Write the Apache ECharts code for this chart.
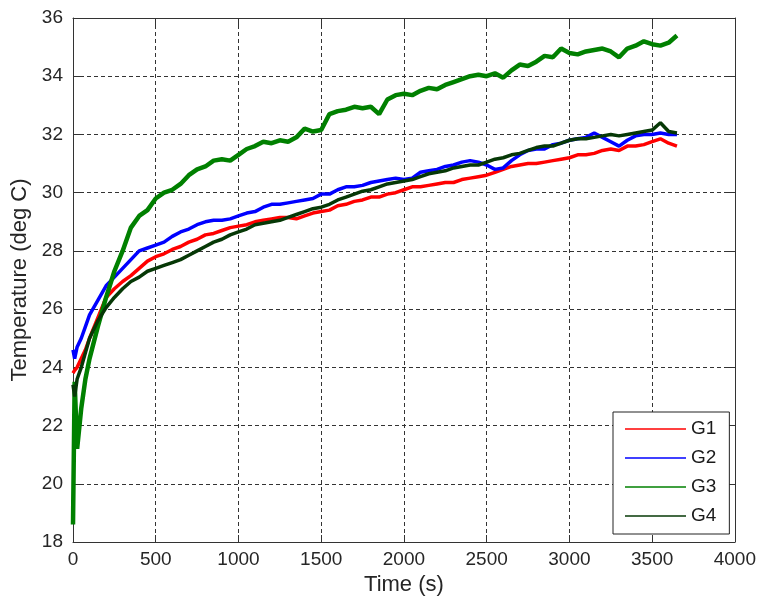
<!DOCTYPE html>
<html>
<head>
<meta charset="utf-8">
<title>Temperature vs time</title>
<script src="https://cdn.jsdelivr.net/npm/echarts@6/dist/echarts.min.js"></script>
<style>
  html, body { margin: 0; padding: 0; background: #fff; }
  #chart { width: 759px; height: 601px; }
</style>
</head>
<body>
<div id="chart"></div>
<script>
// time stamps (s), shared by all four gauges
var times = [0, 10, 25, 50, 75, 100, 150, 200, 250, 300, 350, 400, 450, 500, 550, 600, 650, 700, 750, 800,
  850, 900, 950, 1000, 1050, 1100, 1150, 1200, 1250, 1300, 1350, 1400, 1450, 1500, 1550, 1600, 1650, 1700,
  1750, 1800, 1850, 1900, 1950, 2000, 2050, 2100, 2150, 2200, 2250, 2300, 2350, 2400, 2450, 2500, 2550,
  2600, 2650, 2700, 2750, 2800, 2850, 2900, 2950, 3000, 3050, 3100, 3150, 3200, 3250, 3300, 3350, 3400,
  3450, 3500, 3550, 3600, 3650]

var g1 = [23.8, 23.9, 24.0, 24.3, 24.6, 25.0, 25.7, 26.4, 26.7, 26.95, 27.15, 27.4, 27.65, 27.8, 27.9, 28.05,
  28.15, 28.3, 28.4, 28.55, 28.6, 28.7, 28.8, 28.85, 28.9, 29.0, 29.05, 29.1, 29.15, 29.15, 29.1, 29.2, 29.3,
  29.35, 29.4, 29.55, 29.6, 29.7, 29.75, 29.85, 29.85, 29.95, 30.0, 30.1, 30.2, 30.2, 30.25, 30.3, 30.35,
  30.35, 30.45, 30.5, 30.55, 30.6, 30.7, 30.8, 30.9, 30.95, 31.0, 31.0, 31.05, 31.1, 31.15, 31.2, 31.3, 31.3,
  31.35, 31.45, 31.5, 31.45, 31.6, 31.6, 31.65, 31.75, 31.85, 31.7, 31.6]

var g2 = [24.6, 24.3, 24.7, 25.0, 25.4, 25.8, 26.3, 26.8, 27.1, 27.4, 27.7, 28.0, 28.1, 28.2, 28.3, 28.5,
  28.65, 28.75, 28.9, 29.0, 29.05, 29.05, 29.1, 29.2, 29.3, 29.35, 29.5, 29.6, 29.6, 29.65, 29.7, 29.75, 29.8,
  29.95, 29.95, 30.1, 30.2, 30.2, 30.25, 30.35, 30.4, 30.45, 30.5, 30.45, 30.5, 30.7, 30.75, 30.8, 30.9,
  30.95, 31.05, 31.1, 31.05, 30.95, 30.8, 30.85, 31.1, 31.3, 31.45, 31.5, 31.5, 31.65, 31.7, 31.8, 31.85,
  31.9, 32.05, 31.9, 31.75, 31.6, 31.8, 31.95, 32.0, 32.0, 32.05, 32.0, 32.0]

var g3 = [18.6, 23.5, 21.2, 22.6, 23.6, 24.3, 25.4, 26.4, 27.3, 28.0, 28.8, 29.2, 29.4, 29.8, 30.0, 30.1,
  30.3, 30.6, 30.8, 30.9, 31.1, 31.15, 31.1, 31.3, 31.5, 31.6, 31.75, 31.7, 31.8, 31.75, 31.9, 32.2, 32.1,
  32.15, 32.7, 32.8, 32.85, 32.95, 32.9, 32.95, 32.7, 33.2, 33.35, 33.4, 33.35, 33.5, 33.6, 33.55, 33.7,
  33.8, 33.9, 34.0, 34.05, 34.0, 34.1, 33.95, 34.2, 34.4, 34.35, 34.5, 34.7, 34.65, 34.95, 34.8, 34.75,
  34.85, 34.9, 34.95, 34.85, 34.65, 34.95, 35.05, 35.2, 35.1, 35.05, 35.15, 35.4]

var g4 = [23.4, 23.0, 23.6, 24.0, 24.5, 25.0, 25.6, 26.05, 26.4, 26.7, 26.95, 27.1, 27.3, 27.4, 27.5, 27.6,
  27.7, 27.85, 28.0, 28.15, 28.3, 28.4, 28.55, 28.65, 28.75, 28.9, 28.95, 29.0, 29.05, 29.15, 29.25, 29.35,
  29.45, 29.5, 29.6, 29.75, 29.85, 29.95, 30.05, 30.1, 30.2, 30.3, 30.35, 30.4, 30.45, 30.55, 30.65, 30.7,
  30.75, 30.85, 30.9, 30.95, 30.95, 31.05, 31.15, 31.2, 31.3, 31.35, 31.45, 31.55, 31.6, 31.6, 31.7, 31.8,
  31.85, 31.85, 31.9, 31.95, 32.0, 31.95, 32.0, 32.05, 32.1, 32.15, 32.4, 32.1, 32.05]

var seriesNames = ['G1', 'G2', 'G3', 'G4']
var seriesColors = ['#ff0000', '#0000ff', '#008000', '#063806']
var seriesWidths = [3.5, 3.5, 4.5, 3.5]
var xTicks = { min: 0, max: 4000, step: 500 }
var yTicks = { min: 18, max: 36, step: 2 }

function pairs(vals) {
  return times.map(function (t, i) { return [t, vals[i]] })
}

var myChart = echarts.init(document.getElementById('chart'), null, { renderer: 'canvas' })

var fontName = 'Liberation Sans, Arial, sans-serif'
var labelFont = { fontFamily: fontName, fontSize: 19, color: '#262626', formatter: function (v) { return String(v) } }
var frameLine = { show: true, onZero: false, lineStyle: { color: '#333', width: 1 } }
var innerTick = { show: true, inside: true, length: 7, lineStyle: { color: '#333', width: 1 } }
var dashed = { show: true, lineStyle: { color: '#333', width: 1, type: [4, 3] } }

var option = {
  backgroundColor: '#fff',
  animation: false,
  grid: { left: 73, right: 22, top: 18, bottom: 59 },
  legend: {
    data: seriesNames,
    orient: 'vertical',
    left: 613,
    top: 412,
    backgroundColor: '#fff',
    borderColor: '#222',
    borderWidth: 1,
    borderRadius: 0,
    padding: [7, 13, 8, 12],
    icon: 'rect',
    itemWidth: 61,
    itemHeight: 1.5,
    itemGap: 9,
    textStyle: { fontFamily: fontName, fontSize: 19, lineHeight: 20, color: '#1a1a1a' }
  },
  xAxis: [
    {
      type: 'value',
      min: xTicks.min,
      max: xTicks.max,
      interval: xTicks.step,
      name: 'Time (s)',
      nameLocation: 'middle',
      nameGap: 25,
      nameTextStyle: { fontFamily: fontName, fontSize: 22, color: '#262626' },
      axisLine: frameLine,
      axisTick: innerTick,
      axisLabel: Object.assign({ margin: 8 }, labelFont),
      splitLine: dashed
    },
    {
      type: 'value',
      position: 'top',
      min: xTicks.min,
      max: xTicks.max,
      interval: xTicks.step,
      axisLine: frameLine,
      axisTick: innerTick,
      axisLabel: { show: false },
      splitLine: { show: false }
    }
  ],
  yAxis: [
    {
      type: 'value',
      min: yTicks.min,
      max: yTicks.max,
      interval: yTicks.step,
      name: 'Temperature (deg C)',
      nameLocation: 'middle',
      nameGap: 42,
      nameTextStyle: { fontFamily: fontName, fontSize: 22, color: '#262626' },
      axisLine: frameLine,
      axisTick: innerTick,
      axisLabel: Object.assign({ margin: 10 }, labelFont),
      splitLine: dashed
    },
    {
      type: 'value',
      position: 'right',
      min: yTicks.min,
      max: yTicks.max,
      interval: yTicks.step,
      axisLine: frameLine,
      axisTick: innerTick,
      axisLabel: { show: false },
      splitLine: { show: false }
    }
  ],
  series: [g1, g2, g3, g4].map(function (vals, i) {
    return {
      name: seriesNames[i],
      type: 'line',
      xAxisIndex: 0,
      yAxisIndex: 0,
      data: pairs(vals),
      symbol: 'none',
      clip: true,
      itemStyle: { color: seriesColors[i] },
      lineStyle: { color: seriesColors[i], width: seriesWidths[i] }
    }
  })
}

myChart.setOption(option)
</script>
</body>
</html>
